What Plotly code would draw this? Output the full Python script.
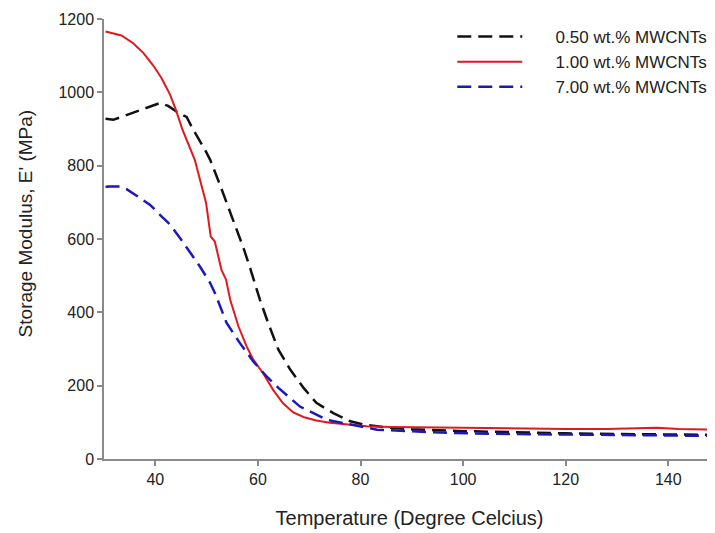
import plotly.graph_objects as go

# 0.50 wt.% MWCNTs
temp_050 = [30.3, 31.8, 33.4, 35.7, 37.3, 38.6, 40.9, 42.5, 44.5, 46.1, 47.4, 49.7, 50.7,
            52.6, 55.2, 56.2, 57.2, 58.5, 60.4, 62.0, 64.0, 66.3, 68.9, 71.4, 74.7, 78.0,
            80.5, 85, 90, 100, 110, 120, 130, 140, 149.1]
mod_050 = [928, 925, 933, 945, 954, 960, 971, 963, 944, 933, 898, 843, 816,
           748, 650, 615, 575, 520, 434, 371, 298, 244, 194, 153, 125, 103,
           94, 86, 81, 76, 72, 70, 68, 67, 66]

# 1.00 wt.% MWCNTs
temp_100 = [30.3, 31.5, 33.4, 35.7, 37.7, 39.6, 41.2, 42.9, 44.0, 45.3, 46.6, 47.7, 48.7,
            49.9, 50.8, 51.6, 52.9, 53.8, 54.6, 56.2, 57.8, 59.1, 61.1, 63.0, 64.9, 66.9,
            69.0, 71.4, 74.0, 76.6, 81.2, 86, 92, 97.4, 105, 112, 120, 128, 134, 137.8,
            142, 149.1]
mod_100 = [1166, 1162, 1155, 1134, 1107, 1073, 1039, 993, 953, 898, 852, 816, 762,
           698, 607, 593, 516, 489, 434, 362, 307, 271, 232, 188, 152, 127,
           114, 105, 99, 95, 89, 87, 86, 85, 84, 83, 82, 82, 83, 85,
           82, 80]

# 7.00 wt.% MWCNTs
temp_700 = [30.3, 30.8, 33.1, 34.4, 37.0, 39.0, 40.9, 42.9, 44.8, 46.8, 48.7, 50.7, 51.7,
            53.9, 56.5, 59.1, 61.7, 64.0, 68.2, 73.4, 78.0, 83.2, 91, 97.4, 110, 120,
            130, 140, 149.1]
mod_700 = [742, 743, 743, 736, 712, 693, 666, 639, 603, 562, 525, 480, 450,
           371, 316, 266, 225, 194, 143, 107, 94, 80, 75, 71, 68, 67,
           65, 64, 63]

x_ticks = [40, 60, 80, 100, 120, 140]
y_ticks = [0, 200, 400, 600, 800, 1000, 1200]

# gap between the legend line and its text, as in the original figure
pad = "\u00a0" * 6

fig = go.Figure()

fig.add_trace(go.Scatter(
    x=temp_050, y=mod_050, mode="lines", name=pad + "0.50 wt.% MWCNTs",
    line=dict(color="#111111", width=2.5, dash="14px,7px"),
))
fig.add_trace(go.Scatter(
    x=temp_100, y=mod_100, mode="lines", name=pad + "1.00 wt.% MWCNTs",
    line=dict(color="rgb(225,25,30)", width=2),
))
fig.add_trace(go.Scatter(
    x=temp_700, y=mod_700, mode="lines", name=pad + "7.00 wt.% MWCNTs",
    line=dict(color="rgb(25,25,190)", width=2.5, dash="14px,7px"),
))

axis_style = dict(
    showgrid=False, zeroline=False, showline=True,
    linecolor="#8a8a8a", linewidth=1.5,
    ticks="outside", ticklen=5, tickcolor="#8a8a8a", tickwidth=1.5,
    tickfont=dict(size=16, color="#222222"),
)

# y title sits a little above the middle of the axis in the original,
# so it is placed as a rotated annotation instead of the axis title
fig.add_annotation(
    text="Storage Modulus, E' (MPa)", textangle=-90,
    xref="paper", yref="paper", x=-0.128, y=0.535,
    xanchor="center", yanchor="middle", showarrow=False,
    font=dict(size=19),
)

# page body has an 8px margin, so the figure is 8px smaller than the window
fig.update_layout(
    width=707, height=525,
    template="plotly_white",
    plot_bgcolor="white", paper_bgcolor="white",
    font=dict(family="Liberation Sans, Arial, sans-serif", color="#222222"),
    margin=dict(l=96, r=0, t=11, b=74),
    xaxis=dict(range=[30, 149.1], tickvals=x_ticks,
               title=dict(text="Temperature (Degree Celcius)", font=dict(size=20), standoff=24),
               **axis_style),
    yaxis=dict(range=[0, 1200], tickvals=y_ticks, **axis_style),
    legend=dict(x=0.57, y=1.0, xanchor="left", yanchor="top",
                bgcolor="rgba(0,0,0,0)", font=dict(size=17),
                itemwidth=65, tracegroupgap=0),
    showlegend=True,
)

fig.write_html("out.html")
